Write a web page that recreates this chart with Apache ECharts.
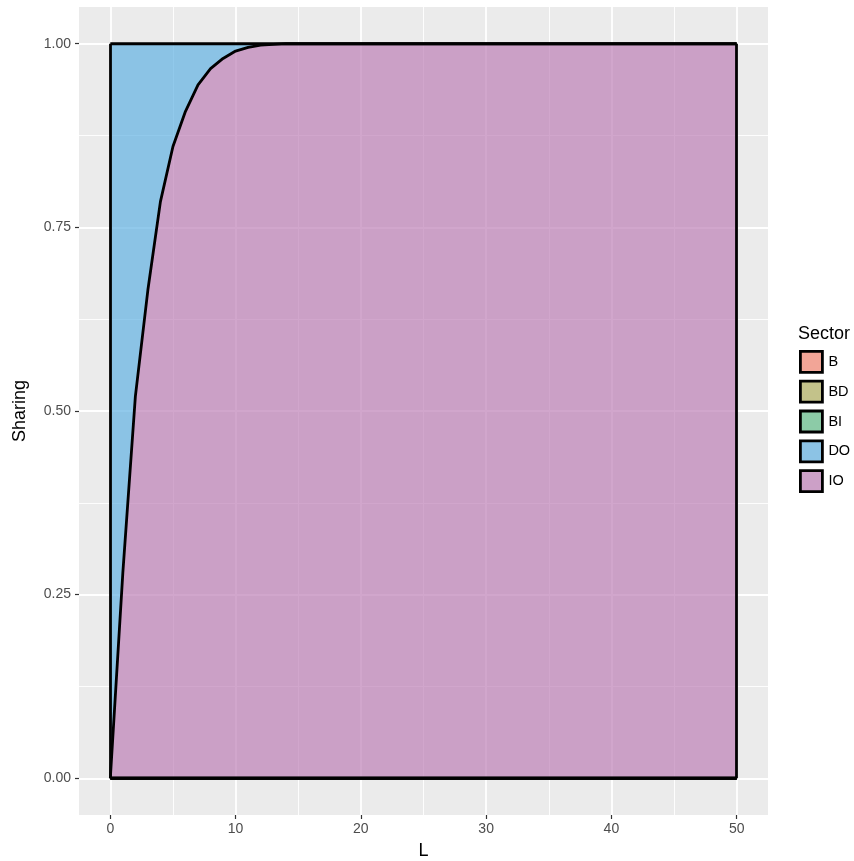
<!DOCTYPE html>
<html lang="en">
<head>
    <meta charset="UTF-8">
    <title>Sharing by sector</title>
    <script src="https://cdn.jsdelivr.net/npm/echarts@6/dist/echarts.min.js"></script>
    <style>
        html, body { margin: 0; padding: 0; background: #fff; }
        #chart { width: 854px; height: 861px; }
    </style>
</head>
<body>
    <div id="chart"></div>
    <script>
        // values
        var L  = [0, 1, 2, 3, 4, 5, 6, 7, 8, 9, 10, 11, 12, 13, 14, 15, 20, 25, 30, 35, 40, 45, 50];
        var IO = [0, 0.28, 0.52, 0.665, 0.785, 0.86, 0.908, 0.944, 0.966, 0.98, 0.99, 0.995, 0.998, 0.999, 1, 1, 1, 1, 1, 1, 1, 1, 1];
        var DO = [1, 0.72, 0.48, 0.335, 0.215, 0.14, 0.092, 0.056, 0.034, 0.02, 0.01, 0.005, 0.002, 0.001, 0, 0, 0, 0, 0, 0, 0, 0, 0];
        var B  = [0, 0, 0, 0, 0, 0, 0, 0, 0, 0, 0, 0, 0, 0, 0, 0, 0, 0, 0, 0, 0, 0, 0];
        var BD = [0, 0, 0, 0, 0, 0, 0, 0, 0, 0, 0, 0, 0, 0, 0, 0, 0, 0, 0, 0, 0, 0, 0];
        var BI = [0, 0, 0, 0, 0, 0, 0, 0, 0, 0, 0, 0, 0, 0, 0, 0, 0, 0, 0, 0, 0, 0, 0];

        var sectors = ['B', 'BD', 'BI', 'DO', 'IO'];
        var xTicks = [0, 10, 20, 30, 40, 50];
        var xMinor = [5, 15, 25, 35, 45];
        var yTicks = [0, 0.25, 0.5, 0.75, 1];
        var yMinor = [0.125, 0.375, 0.625, 0.875];

        var fills = { B: '#F8766D', BD: '#A3A500', BI: '#00BF7D', DO: '#63B2E2', IO: '#BD80B6' };
        var keys  = { B: '#F2A597', BD: '#C3C28A', BI: '#8CCBA7', DO: '#8CC3E5', IO: '#CCA0C7' };
        var values = { B: B, BD: BD, BI: BI, DO: DO, IO: IO };

        // share first, L second, so the stack runs on the share (y) dimension
        function rows(arr) {
            return L.map(function (x, i) { return [arr[i], x]; });
        }
        var last = L.length - 1;
        var top0 = IO[0] + DO[0], topN = IO[last] + DO[last];

        // stack from the bottom: zero sectors, then IO, then DO
        var order = ['B', 'BD', 'BI', 'IO', 'DO'];
        var series = order.map(function (s) {
            var ser = {
                name: s,
                type: 'line',
                stack: 'share',
                data: rows(values[s]),
                encode: { x: 1, y: 0 },
                symbol: 'none',
                z: 3,
                itemStyle: { color: fills[s] },
                lineStyle: { color: '#000', width: 2.8 },
                areaStyle: { color: fills[s], opacity: 0.7 }
            };
            if (s === 'IO') {
                ser.markLine = {
                    silent: true,
                    symbol: 'none',
                    label: { show: false },
                    lineStyle: { color: '#000', width: 2.8, type: 'solid' },
                    data: [
                        [{ coord: [L[0], 0] }, { coord: [L[0], top0] }],
                        [{ coord: [L[last], 0] }, { coord: [L[last], topN] }]
                    ]
                };
            }
            return ser;
        });

        var chart = echarts.init(document.getElementById('chart'));
        chart.setOption({
            animation: false,
            textStyle: { fontFamily: 'Liberation Sans, Arial, sans-serif' },
            title: {
                text: 'Sector',
                left: 793, top: 320,
                textStyle: { fontSize: 18, fontWeight: 'normal', color: '#000' }
            },
            legend: {
                orient: 'vertical',
                left: 794, top: 345,
                itemWidth: 22, itemHeight: 21, itemGap: 6,
                textStyle: { fontSize: 14.5, color: '#000', padding: [0, 0, 0, 1] },
                data: sectors.map(function (s) {
                    return {
                        name: s, icon: 'rect',
                        itemStyle: { color: keys[s], borderColor: '#000', borderWidth: 2.8, opacity: 1 }
                    };
                })
            },
            grid: {
                left: 79, right: 86, top: 7, bottom: 46,
                containLabel: false, outerBoundsMode: 'none',
                show: true, backgroundColor: '#EBEBEB', borderWidth: 0
            },
            xAxis: [{
                type: 'value', min: -2.5, max: 52.5, position: 'bottom',
                name: 'L', nameLocation: 'middle', nameGap: 27,
                nameTextStyle: { fontSize: 18, color: '#000' },
                axisLine: { show: false, onZero: false },
                axisTick: { show: true, length: 4, customValues: xTicks, lineStyle: { color: '#333', width: 1.2 } },
                axisLabel: { customValues: xTicks, color: '#4D4D4D', fontSize: 14, margin: 7 },
                splitLine: { show: true, lineStyle: { color: '#fff', width: 1.8 } }
            }, {
                type: 'value', min: -2.5, max: 52.5, position: 'bottom',
                axisLine: { show: false, onZero: false },
                axisTick: { show: false, customValues: xMinor },
                axisLabel: { show: false, customValues: xMinor },
                splitLine: { show: true, lineStyle: { color: '#fff', width: 0.9 } }
            }],
            yAxis: [{
                type: 'value', min: -0.05, max: 1.05, position: 'left',
                name: 'Sharing', nameLocation: 'middle', nameGap: 50, nameRotate: 90,
                nameTextStyle: { fontSize: 18, color: '#000' },
                axisLine: { show: false, onZero: false },
                axisTick: { show: true, length: 4, customValues: yTicks, lineStyle: { color: '#333', width: 1.2 } },
                axisLabel: {
                    customValues: yTicks, color: '#4D4D4D', fontSize: 14, margin: 8,
                    formatter: function (v) { return v.toFixed(2); }
                },
                splitLine: { show: true, lineStyle: { color: '#fff', width: 1.8 } }
            }, {
                type: 'value', min: -0.05, max: 1.05, position: 'left',
                axisLine: { show: false, onZero: false },
                axisTick: { show: false, customValues: yMinor },
                axisLabel: { show: false, customValues: yMinor },
                splitLine: { show: true, lineStyle: { color: '#fff', width: 0.9 } }
            }],
            series: series
        });
    </script>
</body>
</html>
